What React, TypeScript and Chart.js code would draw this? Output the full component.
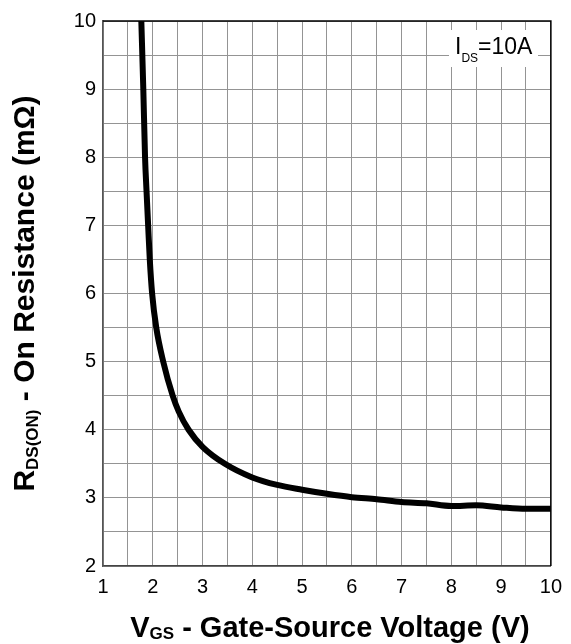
import { useEffect, useRef } from 'react';
import { Chart, registerables } from 'chart.js';

Chart.register(...registerables);

const W = 571;
const H = 644;
const FONT = '"Liberation Sans", Arial, Helvetica, sans-serif';

// V_GS (V)
const vgs = [1.77, 1.81, 1.845, 1.875, 1.907, 1.94, 1.987, 2.07, 2.21, 2.4, 2.52, 2.72, 3.0, 3.45, 4.0, 4.5, 5.0, 5.5, 6.0, 6.5, 7.0, 7.5, 8.0, 8.5, 9.0, 9.5, 10];
// R_DS(ON) (mΩ)
const rds = [10, 9.0, 8.0, 7.5, 7.0, 6.5, 6.0, 5.5, 5.0, 4.5, 4.27, 4.0, 3.75, 3.5, 3.3, 3.19, 3.12, 3.06, 3.01, 2.98, 2.94, 2.92, 2.88, 2.89, 2.86, 2.84, 2.84];

const xMin = 1, xMax = 10, yMin = 2, yMax = 10, gridStep = 0.5;
const annotation = { main: 'I', sub: 'DS', rest: '=10A' };
const xTitle = { main: 'V', sub: 'GS', rest: ' - Gate-Source Voltage (V)' };
const yTitle = { main: 'R', sub: 'DS(ON)', rest: ' - On Resistance (mΩ)' };

type Piece = { t: string; font: string; dy: number };

function piecesWidth(ctx: CanvasRenderingContext2D, pieces: Piece[]) {
  let w = 0;
  for (const p of pieces) { ctx.font = p.font; w += ctx.measureText(p.t).width; }
  return w;
}
function drawPieces(ctx: CanvasRenderingContext2D, pieces: Piece[], x: number, y: number) {
  let cx = x;
  ctx.textBaseline = 'alphabetic';
  ctx.textAlign = 'left';
  for (const p of pieces) {
    ctx.font = p.font;
    ctx.fillText(p.t, cx, y + p.dy);
    cx += ctx.measureText(p.t).width;
  }
}

export default function App() {
  const ref = useRef<HTMLCanvasElement>(null);
  useEffect(() => {
    const canvas = ref.current!;
    const textPlugin = {
      id: 'texts',
      afterDraw(chart: any) {
        const ctx: CanvasRenderingContext2D = chart.ctx;
        const a = chart.chartArea;
        ctx.save();
        // frame top/right
        ctx.strokeStyle = '#000';
        ctx.lineWidth = 1.5;
        ctx.beginPath();
        ctx.moveTo(a.left, a.top);
        ctx.lineTo(a.right, a.top);
        ctx.lineTo(a.right, a.bottom);
        ctx.stroke();
        // annotation box
        ctx.fillStyle = '#fff';
        ctx.fillRect(449, 30, 89, 37);
        ctx.fillStyle = '#000';
        drawPieces(ctx, [
          { t: annotation.main, font: `23px ${FONT}`, dy: 0 },
          { t: annotation.sub, font: `12px ${FONT}`, dy: 8 },
          { t: annotation.rest, font: `23px ${FONT}`, dy: 0 },
        ], 455, 54);
        // x title
        const xp: Piece[] = [
          { t: xTitle.main, font: `bold 29px ${FONT}`, dy: 0 },
          { t: xTitle.sub, font: `bold 17px ${FONT}`, dy: 2 },
          { t: xTitle.rest, font: `bold 29px ${FONT}`, dy: 0 },
        ];
        const xw = piecesWidth(ctx, xp);
        drawPieces(ctx, xp, (a.left + a.right) / 2 - xw / 2 + 3, 637);
        // y title
        const yp: Piece[] = [
          { t: yTitle.main, font: `bold 30px ${FONT}`, dy: 0 },
          { t: yTitle.sub, font: `bold 17px ${FONT}`, dy: 4 },
          { t: yTitle.rest, font: `bold 30px ${FONT}`, dy: 0 },
        ];
        const yw = piecesWidth(ctx, yp);
        ctx.translate(34, (a.top + a.bottom) / 2);
        ctx.rotate(-Math.PI / 2);
        drawPieces(ctx, yp, -yw / 2, 0);
        ctx.restore();
      },
    };
    const chart = new Chart(canvas, {
      type: 'line',
      data: {
        datasets: [{
          data: vgs.map((x, i) => ({ x, y: rds[i] })),
          borderColor: '#000',
          borderWidth: 6,
          pointRadius: 0,
          cubicInterpolationMode: 'monotone',
          fill: false,
        }],
      },
      options: {
        responsive: false,
        animation: false,
        devicePixelRatio: 1,
        layout: { padding: { top: 21, right: 15, left: 0, bottom: 0 } },
        plugins: { legend: { display: false }, tooltip: { enabled: false } },
        scales: {
          x: {
            type: 'linear', min: xMin, max: xMax,
            ticks: {
              stepSize: gridStep, autoSkip: false, maxRotation: 0, padding: 9, color: '#000',
              font: { family: FONT, size: 20 },
              callback: (v: any) => (Number.isInteger(v) ? String(v) : ''),
            },
            grid: { color: '#949494', lineWidth: 1, drawTicks: false },
            border: { color: '#444', width: 1.5 },
            afterFit: (s: any) => { s.height = 78; },
          },
          y: {
            type: 'linear', min: yMin, max: yMax,
            ticks: {
              stepSize: gridStep, autoSkip: false, padding: 7, color: '#000',
              font: { family: FONT, size: 20 },
              callback: (v: any) => (Number.isInteger(v) ? String(v) : ''),
            },
            grid: { color: '#949494', lineWidth: 1, drawTicks: false },
            border: { color: '#555', width: 1.5 },
            afterFit: (s: any) => { s.width = 103; },
          },
        },
      },
      plugins: [textPlugin],
    } as any);
    return () => chart.destroy();
  }, []);
  return (
    <div style={{ position: 'absolute', left: 0, top: 0, width: W, height: H, background: '#fff' }}>
      <canvas ref={ref} width={W} height={H} style={{ display: 'block', width: W, height: H }} />
    </div>
  );
}
